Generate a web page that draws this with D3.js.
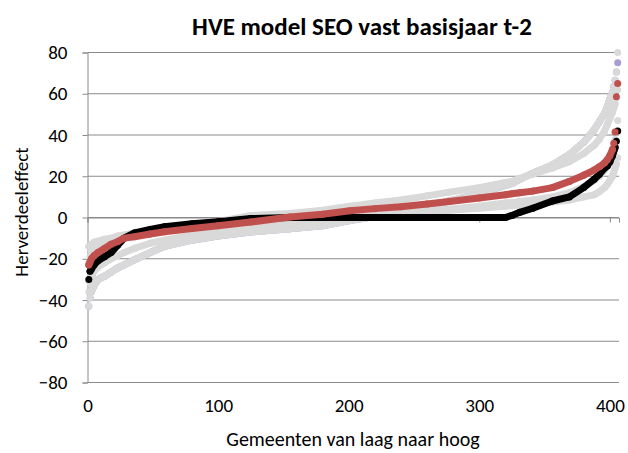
<!DOCTYPE html>
<html>
<head>
<meta charset="utf-8">
<script src="https://cdn.jsdelivr.net/npm/d3@7"></script>
<style>
body { margin: 0; background: #fff; }
text { font-family: Carlito, Lato, "Liberation Sans", sans-serif; fill: #000; }
</style>
</head>
<body>
<div id="vis1"></div>
<script>
// gemeenten sorted from low to high, sampled ranks
var rank   = [1, 2, 3, 5, 8, 13, 18, 23, 28, 36, 48, 59, 80, 100, 125, 155, 180, 201, 220, 240, 260, 277, 300, 320, 325, 331, 341, 356, 369, 380, 388, 392, 396, 398, 400, 402, 403, 404, 405, 406];

// herverdeeleffect per series
var purple = [-43, -39, -36, -33, -30, -28.5, -26.5, -24.5, -23, -20.5, -17, -14, -11, -9, -7, -5.5, -4, -1.5, 0.5, 3, 5.5, 8, 11.5, 15.5, 16.5, 18.5, 21.5, 25.5, 30.5, 36.5, 42.5, 46.5, 50.5, 53.5, 57.5, 60.5, 63.5, 66.5, 70.5, 75];
var greyA  = [-43, -39, -36, -33, -30, -28.5, -26.5, -24.5, -23, -20.5, -17, -14, -11, -9, -7, -5.5, -4, -1.5, 0.5, 3, 5.5, 8, 11.5, 15.5, 16.5, 18.5, 21.5, 25.5, 30.5, 36.5, 42.5, 46.5, 50.5, 53.5, 57.5, 60.5, 63.5, 66.5, 70.5, 80];
var greyB  = [-22, -19, -16, -14, -13, -12, -11.5, -11, -10, -8.5, -7, -5.5, -3.5, -2, 1, 2, 3.5, 5.5, 7, 8.5, 10.5, 12.3, 14.5, 17, 17.5, 19, 21, 24, 27, 31, 35, 38, 42, 45, 48, 51, 53, 55, 58, 62];
var greyC  = [-36, -32, -29, -26, -24, -22, -20, -18.5, -17, -15, -12.5, -11, -8.5, -6.8, -4.8, -3, -1.5, 0, 1, 2, 3, 4, 5.5, 7, 7.3, 7.8, 8.5, 10, 12, 15, 18, 20, 23, 25, 28, 32, 35, 38, 42, 47];
var greyD  = [-14, -13.5, -13, -12, -11.5, -10.5, -10, -9, -8.5, -7.5, -6.5, -5.8, -4.8, -4, -3, -2, -1, 0, 1, 2, 3, 3.5, 4.5, 5.5, 5.7, 6, 6.5, 7.5, 8.5, 10, 11, 12.5, 14.5, 16, 18, 20, 22, 24, 26, 29];
var black  = [-30, -26, -25, -23, -21, -19, -17, -13.5, -10, -7.5, -5.8, -4.5, -3, -2, -0.5, 0, 0, 0, 0, 0, 0, 0, 0, 0, 1, 2.5, 4.5, 8, 10, 14.5, 18.5, 21, 24, 25, 27, 30, 32, 34, 37, 42];
var red    = [-23, -21.5, -20, -18.5, -17, -15, -13, -11.7, -10, -9.3, -8, -6.9, -5.3, -4, -2.2, 0.2, 1.6, 3.3, 4.3, 5.2, 6.5, 7.8, 9.5, 11, 11.5, 12, 12.8, 14.5, 17.5, 20.5, 23, 24.6, 26.5, 28, 30, 33, 36, 41.5, 58.5, 65];

var yTicks = [-80, -60, -40, -20, 0, 20, 40, 60, 80];
var xTicks = [0, 100, 200, 300, 400];

var width = 628, height = 453;
var plot = {left: 87.5, right: 619, top: 52.5, bottom: 382.5};

var svg = d3.select("#vis1")
  .append("svg")
    .attr("width", width)
    .attr("height", height);

var x = d3.scaleLinear()
  .domain([0, 407])
  .range([plot.left, plot.right]);

var y = d3.scaleLinear()
  .domain([-80, 80])
  .range([plot.bottom, plot.top]);

// gridlines
svg.append("g")
  .selectAll("line")
  .data(yTicks)
  .enter()
  .append("line")
    .attr("x1", x(0))
    .attr("x2", x(407))
    .attr("y1", function(d){ return y(d); })
    .attr("y2", function(d){ return y(d); })
    .attr("stroke", "#8a8a8a")
    .attr("stroke-width", 1);

// y axis
var yAxis = svg.append("g")
  .attr("transform", "translate(" + x(0) + ",0)")
  .call(d3.axisLeft(y).tickValues(yTicks).tickSize(5).tickPadding(15));
yAxis.select(".domain").attr("stroke", "#8a8a8a");
yAxis.selectAll(".tick line").attr("stroke", "#8a8a8a");
yAxis.selectAll("text")
  .style("font-size", "19px")
  .style("font-family", "Carlito, Lato, sans-serif");

// x axis crosses at 0, labels at the bottom
var xAxis = svg.append("g")
  .attr("transform", "translate(0," + y(0) + ")")
  .call(d3.axisBottom(x).tickValues(xTicks).tickSize(5).tickFormat(""));
xAxis.select(".domain").attr("stroke", "#8a8a8a");
xAxis.selectAll(".tick line").attr("stroke", "#8a8a8a");

var xLabels = svg.append("g")
  .attr("transform", "translate(0," + y(-80) + ")")
  .call(d3.axisBottom(x).tickValues(xTicks).tickSize(0).tickPadding(16));
xLabels.select(".domain").remove();
xLabels.selectAll("text")
  .style("font-size", "19px")
  .style("font-family", "Carlito, Lato, sans-serif");

// series: thick path where neighbouring markers overlap, plus a marker per point
var r = 3.5;
function runs(vals) {
  var out = [], cur = [[rank[0], vals[0]]];
  for (var i = 1; i < rank.length; i++) {
    var slope = Math.abs(y(vals[i]) - y(vals[i-1])) / (rank[i] - rank[i-1]);
    if (slope > 5.5) { out.push(cur); cur = []; }
    cur.push([rank[i], vals[i]]);
  }
  out.push(cur);
  return out;
}

var line = d3.line()
  .x(function(d){ return x(d[0]); })
  .y(function(d){ return y(d[1]); });

var series = [
  {vals: purple, color: "#a99cd0"},
  {vals: greyA, color: "#d9d9d9"},
  {vals: greyB, color: "#d9d9d9"},
  {vals: greyC, color: "#d9d9d9"},
  {vals: greyD, color: "#d9d9d9"},
  {vals: black, color: "#000000"},
  {vals: red, color: "#c0504d"}
];

series.forEach(function(s){
  var g = svg.append("g");
  g.selectAll("path")
    .data(runs(s.vals).filter(function(p){ return p.length > 1; }))
    .enter()
    .append("path")
      .attr("d", line)
      .attr("fill", "none")
      .attr("stroke", s.color)
      .attr("stroke-width", r * 2)
      .attr("stroke-linecap", "round")
      .attr("stroke-linejoin", "round");
  g.selectAll("circle")
    .data(s.vals)
    .enter()
    .append("circle")
      .attr("cx", function(d, i){ return x(rank[i]); })
      .attr("cy", function(d){ return y(d); })
      .attr("r", r)
      .style("fill", s.color);
});

// titles
svg.append("text")
  .attr("x", 362)
  .attr("y", 35)
  .attr("text-anchor", "middle")
  .style("font-size", "25px")
  .style("font-weight", "bold")
  .text("HVE model SEO vast basisjaar t-2");

svg.append("text")
  .attr("x", 353)
  .attr("y", 446)
  .attr("text-anchor", "middle")
  .style("font-size", "20px")
  .text("Gemeenten van laag naar hoog");

svg.append("text")
  .attr("transform", "rotate(-90)")
  .attr("x", -212)
  .attr("y", 28)
  .attr("text-anchor", "middle")
  .style("font-size", "19px")
  .text("Herverdeeleffect");
</script>
</body>
</html>
